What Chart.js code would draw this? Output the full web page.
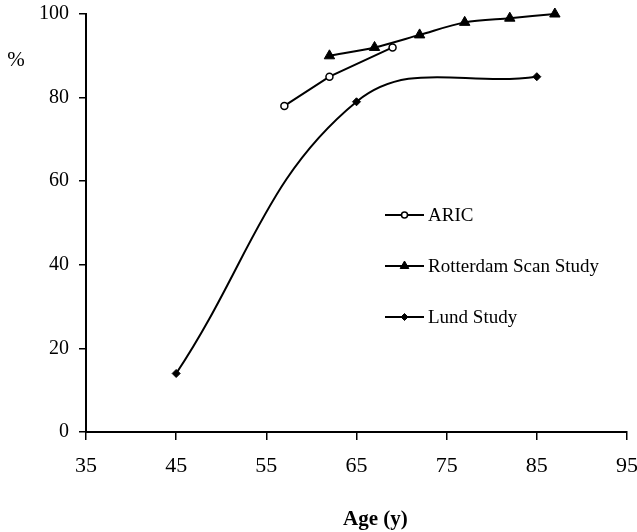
<!DOCTYPE html>
<html>
<head>
<meta charset="utf-8">
<script src="https://cdn.jsdelivr.net/npm/chart.js@4/dist/chart.umd.min.js"></script>
<style>
    html, body { margin: 0; padding: 0; background: #fff; }
    #wrap { width: 637px; height: 532px; }
</style>
</head>
<body>
<div id="wrap"><canvas id="chart" width="637" height="532"></canvas></div>
<script>
// Age in years and percentage per study
const aricAges = [57, 62, 69];
const aricValues = [78, 85, 92];
const rotterdamAges = [62, 67, 72, 77, 82, 87];
const rotterdamValues = [90, 92, 95, 98, 99, 100];
const lundAges = [45, 65, 85];
const lundValues = [14, 79, 85];

const xTicks = [35, 45, 55, 65, 75, 85, 95];
const yTicks = [0, 20, 40, 60, 80, 100];

const serif = "'Liberation Serif', 'Times New Roman', serif";

function points(xs, ys) {
    return xs.map((x, i) => ({ x, y: ys[i] }));
}

function series(label, xs, ys, style) {
    return {
        label,
        data: points(xs, ys),
        borderColor: "#000",
        borderWidth: 2,
        pointBackgroundColor: style.fill,
        pointBorderColor: "#000",
        pointBorderWidth: style.borderWidth,
        pointStyle: style.pointStyle,
        pointRadius: style.radius,
        tension: style.tension,
        clip: false,
        legendMark: style.legendMark,
    };
}

const datasets = [
    series("ARIC", aricAges, aricValues,
        { pointStyle: "circle", radius: 3.5, fill: "#fff", borderWidth: 1.5, tension: 0, legendMark: 3 }),
    series("Rotterdam Scan Study", rotterdamAges, rotterdamValues,
        { pointStyle: "triangle", radius: 6, fill: "#000", borderWidth: 1, tension: 0.3, legendMark: 5 }),
    series("Lund Study", lundAges, lundValues,
        { pointStyle: "rectRot", radius: 4, fill: "#000", borderWidth: 1, tension: 0.4, legendMark: 3.5 }),
];

// legend box inside the plot, plus the free-standing axis captions
const annotations = {
    id: "annotations",
    afterDraw(chart) {
        const ctx = chart.ctx;
        const area = chart.chartArea;
        ctx.save();
        ctx.fillStyle = "#000";
        ctx.strokeStyle = "#000";

        ctx.font = `21px ${serif}`;
        ctx.textAlign = "center";
        ctx.textBaseline = "middle";
        ctx.fillText("%", 16, 60);

        ctx.font = `bold 21px ${serif}`;
        ctx.textBaseline = "alphabetic";
        ctx.fillText("Age (y)", area.left + (area.right - area.left) * 0.535, 525);

        const x0 = area.left + 299;
        const rows = [215, 266, 317];
        ctx.font = `19px ${serif}`;
        ctx.textAlign = "left";
        ctx.textBaseline = "middle";
        chart.data.datasets.forEach((ds, i) => {
            const y = rows[i];
            ctx.lineWidth = 2;
            ctx.beginPath();
            ctx.moveTo(x0, y);
            ctx.lineTo(x0 + 39, y);
            ctx.stroke();
            ctx.fillStyle = ds.pointBackgroundColor;
            ctx.lineWidth = ds.pointBorderWidth;
            Chart.helpers.drawPoint(ctx, {
                pointStyle: ds.pointStyle,
                radius: ds.legendMark,
                rotation: 0,
                borderWidth: ds.pointBorderWidth,
            }, x0 + 19.5, y);
            ctx.fillStyle = "#000";
            ctx.fillText(ds.label, x0 + 43, y + 1);
        });
        ctx.restore();
    },
};

new Chart(document.getElementById("chart"), {
    type: "line",
    data: { datasets },
    options: {
        responsive: false,
        animation: false,
        layout: { padding: { top: 14, right: 10, left: 0, bottom: 0 } },
        plugins: {
            legend: { display: false },
            tooltip: { enabled: false },
        },
        scales: {
            x: {
                type: "linear",
                min: xTicks[0],
                max: xTicks[xTicks.length - 1],
                afterBuildTicks: (scale) => { scale.ticks = xTicks.map((v) => ({ value: v })); },
                afterFit: (scale) => {
                    scale.height = 100;
                    scale.paddingLeft = 0;
                    scale.paddingRight = 0;
                },
                border: { color: "#000", width: 2 },
                grid: { drawOnChartArea: false, color: "#000", lineWidth: 1.5, tickLength: 8 },
                ticks: { color: "#000", padding: 13, font: { family: serif, size: 22 } },
            },
            y: {
                min: yTicks[0],
                max: yTicks[yTicks.length - 1],
                afterBuildTicks: (scale) => { scale.ticks = yTicks.map((v) => ({ value: v })); },
                afterFit: (scale) => {
                    scale.width = 86;
                    scale.paddingTop = 0;
                    scale.paddingBottom = 0;
                },
                border: { color: "#000", width: 2 },
                grid: { drawOnChartArea: false, color: "#000", lineWidth: 1.5, tickLength: 7 },
                ticks: { color: "#000", padding: 10, font: { family: serif, size: 20 } },
            },
        },
    },
    plugins: [annotations],
});
</script>
</body>
</html>
